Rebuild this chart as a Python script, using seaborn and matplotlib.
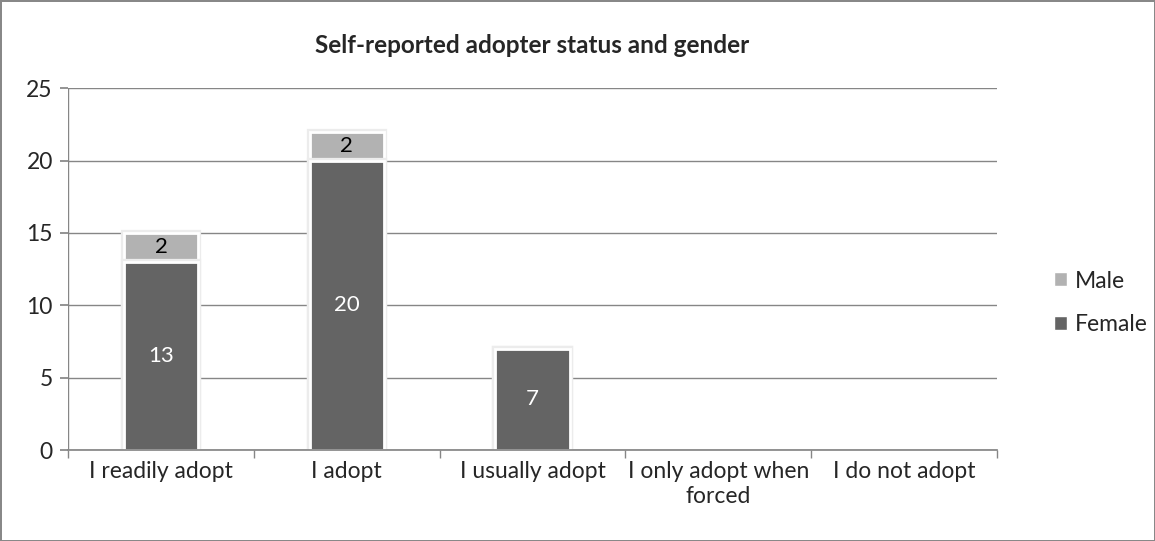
import matplotlib
matplotlib.use("Agg")
import matplotlib.pyplot as plt
import matplotlib.patheffects as pe
import seaborn as sns
import pandas as pd
from matplotlib.patches import Patch

categories = ["I readily adopt", "I adopt", "I usually adopt", "I only adopt when\nforced", "I do not adopt"]
female = [13, 20, 7, 0, 0]
male = [2, 2, 0, 0, 0]
title = "Self-reported adopter status and gender"

sns.set_theme(style="white")
plt.rcParams['font.family'] = ['Lato', 'DejaVu Sans']

female_color = "#646464"
male_color = "#b2b2b2"

df = pd.DataFrame({"category": categories, "female": female, "male": male})
df["total"] = df["female"] + df["male"]

fig = plt.figure(figsize=(11.55, 5.41), dpi=100)
fig.patch.set_edgecolor("#888888")
fig.patch.set_linewidth(2)
ax = fig.add_axes([0.0589, 0.168, 0.8044, 0.669])

sns.barplot(data=df, x="category", y="total", color=male_color, saturation=1,
            width=0.4, edgecolor="white", linewidth=2, ax=ax, zorder=3)
sns.barplot(data=df, x="category", y="female", color=female_color, saturation=1,
            width=0.4, edgecolor="white", linewidth=2, ax=ax, zorder=4)

for p in list(ax.patches):
    if p.get_height() == 0:
        p.remove()
    else:
        p.set_path_effects([pe.Stroke(linewidth=4.5, foreground="#ececec"), pe.Normal()])

for i, (f, m) in enumerate(zip(female, male)):
    if f > 0:
        ax.text(i, f / 2, str(f), ha="center", va="center", color="white", fontsize=16, zorder=5)
    if m > 0:
        ax.text(i, f + m / 2, str(m), ha="center", va="center", color="black", fontsize=16, zorder=5)

ax.set_ylim(0, 25)
ax.set_xlim(-0.5, 4.5)
ax.set_yticks([0, 5, 10, 15, 20, 25])
ax.yaxis.grid(True, color="#868686", linewidth=1)
ax.set_axisbelow(True)
for s in ["top", "right", "left"]:
    ax.spines[s].set_visible(False)
ax.spines["bottom"].set_color("#868686")
ax.spines["bottom"].set_zorder(10)
ax.set_xlabel("")
ax.set_ylabel("")
ax.tick_params(axis="y", length=6, color="#868686", labelsize=16.5, pad=5, left=True)
ax.set_xticks(range(5))
ax.set_xticklabels(categories, fontsize=16.5)
ax.tick_params(axis="x", length=0, pad=8)
ax.set_xticks([-0.5, 0.5, 1.5, 2.5, 3.5, 4.5], minor=True)
ax.tick_params(axis="x", which="minor", length=6, color="#868686", bottom=True)
ax.axvline(-0.5, color="#868686", linewidth=1, zorder=2)

ax.set_title(title, fontsize=17.5, fontweight="bold", pad=25)

handles = [Patch(facecolor=male_color, label="Male"), Patch(facecolor=female_color, label="Female")]
fig.legend(handles=handles, loc="center left", bbox_to_anchor=(0.895, 0.44), frameon=False,
           fontsize=16.5, handlelength=0.55, handleheight=0.55, handletextpad=0.35, labelspacing=1.0)

fig.savefig("out.png", dpi=100)
